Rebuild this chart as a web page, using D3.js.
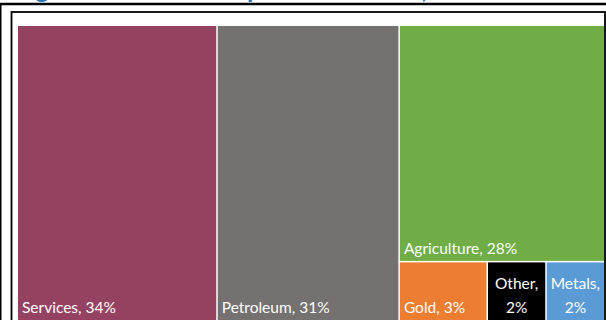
<!DOCTYPE html>
<html>
<head>
<meta charset="utf-8">
<script src="https://cdn.jsdelivr.net/npm/d3@7/dist/d3.min.js"></script>
<style>
  html, body { margin: 0; padding: 0; background: #fff; }
  svg { display: block; }
</style>
</head>
<body>
<svg id="chart" width="606" height="320"></svg>
<script>
// Export shares by sector (percent of total)
const sectors = ["Services", "Petroleum", "Agriculture", "Gold", "Other", "Metals"];
const shares  = [34, 31, 28, 3, 2, 2];
const colors  = ["#954262", "#767171", "#70AD47", "#ED7D31", "#000000", "#5B9BD5"];
const title   = "Figure 1: Ghana's Exports Structure, 2016";

const svg = d3.select("#chart");
const W = 606, H = 320;

// Title (sits mostly above the visible area)
svg.append("text")
  .attr("x", 14).attr("y", -2)
  .attr("font-family", "Lato, 'Open Sans', sans-serif")
  .attr("font-weight", "bold")
  .attr("font-size", 26)
  .attr("fill", "#2E75B6")
  .text(title);

// Frame lines
svg.append("line").attr("x1", 0).attr("x2", W).attr("y1", 4).attr("y2", 4)
  .attr("stroke", "#000").attr("stroke-width", 2.5);
svg.append("line").attr("x1", 0.75).attr("x2", 0.75).attr("y1", 4).attr("y2", H)
  .attr("stroke", "#000").attr("stroke-width", 1.5);
svg.append("rect").attr("x", 11.5).attr("y", 12).attr("width", 593.5).attr("height", H)
  .attr("fill", "none").attr("stroke", "#000").attr("stroke-width", 1.8);

// Treemap
const data = sectors.map((name, i) => ({ name, value: shares[i], color: colors[i] }));
const root = d3.hierarchy({ children: data }).sum(d => d.value);

const x0 = 18, y0 = 26, x1 = 604, y1 = 320;
d3.treemap()
  .tile(d3.treemapSquarify.ratio(1))
  .size([x1 - x0, y1 - y0])
  .paddingInner(1.5)
  .round(false)(root);

const cells = svg.append("g").attr("transform", `translate(${x0},${y0})`)
  .selectAll("g").data(root.leaves()).join("g")
  .attr("transform", d => `translate(${d.x0},${d.y0})`);

cells.append("rect")
  .attr("width", d => d.x1 - d.x0)
  .attr("height", d => d.y1 - d.y0)
  .attr("fill", d => d.data.color);

const FONT = "Lato, 'Open Sans', sans-serif";
const ctx = document.createElement("canvas").getContext("2d");
function measure(t, size) { ctx.font = `${size}px ${FONT}`; return ctx.measureText(t).width; }

cells.each(function(d) {
  const g = d3.select(this);
  const w = d.x1 - d.x0, h = d.y1 - d.y0;
  const label = `${d.data.name}, ${d.data.value}%`;
  let size = 15.5;
  if (measure(label, size) <= w - 8) {
    g.append("text")
      .attr("x", 4).attr("y", h - 7)
      .attr("font-family", FONT).attr("font-size", size)
      .attr("fill", "#fff")
      .text(label);
  } else {
    const lines = [`${d.data.name},`, `${d.data.value}%`];
    while (size > 9 && d3.max(lines, l => measure(l, size)) > w - 6) size -= 0.5;
    g.selectAll("text").data(lines).join("text")
      .attr("x", w / 2)
      .attr("y", (l, i) => h - 7 - (lines.length - 1 - i) * size * 1.55)
      .attr("text-anchor", "middle")
      .attr("font-family", FONT).attr("font-size", size)
      .attr("fill", "#fff")
      .text(l => l);
  }
});
</script>
</body>
</html>
